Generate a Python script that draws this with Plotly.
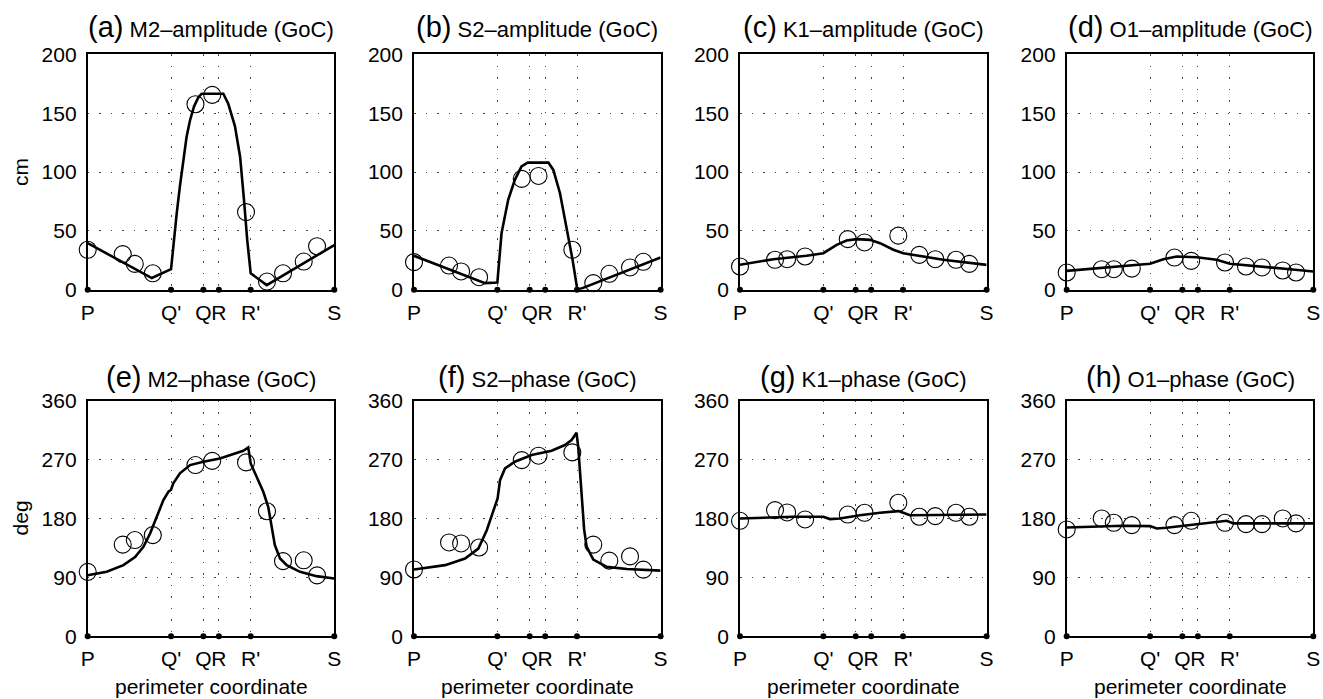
import plotly.graph_objects as go

# ---------------- data ----------------
tick_pos = [0, 33.8, 46.9, 53.2, 66.1, 100]
tick_txt = ["P", "Q'", "Q", "R", "R'", "S"]

stations_x = [0, 14.2, 19.1, 26.4, 43.7, 50.5, 64.2, 72.7, 79.2, 87.6, 93.0]

obs_m2_amp = [34, 30.3, 22, 14, 157.6, 165.5, 66, 7, 14, 24, 37]
obs_s2_amp = [23.5, 20.6, 15.6, 10.7, 94.2, 96.7, 34, 5.7, 13.6, 19, 23.8]
obs_k1_amp = [19.8, 25.5, 26, 28.3, 43, 40.2, 46, 29.7, 26, 25.5, 22]
obs_o1_amp = [14.7, 17.5, 17.5, 18, 27.4, 24.6, 23.2, 19.8, 19, 16.4, 14.7]
obs_m2_pha = [98.4, 140, 147, 154.5, 261.6, 268, 265.7, 191, 114.7, 116, 93]
obs_s2_pha = [102, 143.3, 141.8, 135.6, 269.2, 275.9, 281, 140, 115.5, 122, 101.7]
obs_k1_pha = [176.4, 192.8, 189.2, 178.5, 186, 188.7, 204, 182.6, 183.6, 188.7, 182.6]
obs_o1_pha = [163.2, 180, 173.4, 169.8, 169.8, 176.4, 173.4, 171.3, 171.3, 180, 172.4]

mod_m2_amp_x = [0, 26, 33.8, 34.7, 36.1, 37.4, 38.8, 40.1, 41.5, 43.1, 44.9, 46.2, 55, 57, 59.7, 61.8, 63.4, 64.7, 66.1, 72.6, 100]
mod_m2_amp_y = [39.6, 10, 17.5, 37, 65, 88, 110, 130, 144, 155.6, 163.5, 166.5, 166.5, 158, 139, 113, 76, 42, 14, 4, 38]

mod_s2_amp_x = [0, 28.8, 33.8, 35.5, 38.2, 40.9, 43.6, 46.1, 54.5, 56.5, 59.2, 61.9, 64.3, 66.2, 67.5, 100]
mod_s2_amp_y = [28.9, 5.7, 6.2, 48, 76.4, 93.4, 104.7, 108, 108, 101.8, 82, 53.7, 25.5, 0.6, 0.8, 27.4]

mod_k1_amp_x = [0, 13.5, 27, 33.8, 39.2, 43.2, 47.3, 52.7, 56.8, 62.2, 66.2, 73, 82.4, 100]
mod_k1_amp_y = [21.2, 26, 28.9, 31.1, 38.2, 41.9, 43, 42.4, 39.6, 34, 31.1, 28.9, 25.5, 21.2]

mod_o1_amp_x = [0, 13.5, 33.8, 39.2, 44.6, 52.7, 60.8, 66.2, 77, 90.5, 100]
mod_o1_amp_y = [16.1, 18.4, 22.1, 26, 28.3, 27.7, 25.5, 22.1, 19.8, 17.5, 15.6]

mod_m2_pha_x = [0, 7.7, 14.5, 19.2, 22.6, 25.3, 28.0, 30.7, 32.7, 33.8, 34.7, 37.4, 41.5, 46.9, 53.6, 60.4, 63.1, 65.1, 66.1,
                68.5, 71.2, 73.2, 74.6, 75.9, 78.0, 80.7, 86.1, 92.8, 100]
mod_m2_pha_y = [93.3, 98.4, 108.6, 121, 136.7, 157, 182.6, 208, 220.8, 224, 233.6, 249, 261.6, 266.7, 271.8, 279.5, 283.5, 288.6, 264,
                243.8, 220.8, 197.9, 167.3, 139.2, 118.8, 108.6, 98.4, 91.8, 88.2]

mod_s2_pha_x = [0, 12.6, 20.7, 26.1, 29.5, 32.2, 33.9, 34.9, 36.9, 40.9, 47.7, 55.8, 61.2, 63.9, 65.9, 66.6, 67.5, 68.4, 69.0, 70.0,
                72.7, 78.2, 86.3, 100]
mod_s2_pha_y = [102, 108.6, 118.8, 134, 162, 192.8, 210.6, 238.6, 256.5, 266.7, 276.9, 283.5, 292.2, 299.8, 311, 289, 245, 200, 163, 137,
                117, 106, 102.8, 100.2]

mod_k1_pha_x = [0, 21.6, 33.8, 36.5, 40.5, 48.6, 56.8, 64.2, 66.2, 68.9, 100]
mod_k1_pha_y = [180, 182.6, 182.6, 179, 180, 185, 188.7, 191.2, 188.7, 185, 186]

mod_o1_pha_x = [0, 23, 33.8, 36.5, 40.5, 50, 62.2, 64.9, 67.6, 100]
mod_o1_pha_y = [166.2, 168.8, 168.3, 164.7, 165.7, 169.8, 174.9, 176.4, 172.4, 172.4]

panels = [
    ("(a)", "M2–amplitude (GoC)", mod_m2_amp_x, mod_m2_amp_y, obs_m2_amp, 200, [0, 50, 100, 150, 200]),
    ("(b)", "S2–amplitude (GoC)", mod_s2_amp_x, mod_s2_amp_y, obs_s2_amp, 200, [0, 50, 100, 150, 200]),
    ("(c)", "K1–amplitude (GoC)", mod_k1_amp_x, mod_k1_amp_y, obs_k1_amp, 200, [0, 50, 100, 150, 200]),
    ("(d)", "O1–amplitude (GoC)", mod_o1_amp_x, mod_o1_amp_y, obs_o1_amp, 200, [0, 50, 100, 150, 200]),
    ("(e)", "M2–phase (GoC)", mod_m2_pha_x, mod_m2_pha_y, obs_m2_pha, 360, [0, 90, 180, 270, 360]),
    ("(f)", "S2–phase (GoC)", mod_s2_pha_x, mod_s2_pha_y, obs_s2_pha, 360, [0, 90, 180, 270, 360]),
    ("(g)", "K1–phase (GoC)", mod_k1_pha_x, mod_k1_pha_y, obs_k1_pha, 360, [0, 90, 180, 270, 360]),
    ("(h)", "O1–phase (GoC)", mod_o1_pha_x, mod_o1_pha_y, obs_o1_pha, 360, [0, 90, 180, 270, 360]),
]

# ---------------- layout geometry ----------------
W, H = 1323, 699
col_left_px = [87.7, 414.0, 740.0, 1066.7]
panel_w_px = 246.6
row_top_px = [54.3, 400.7]
panel_h_px = 235.5

FONT = "Liberation Sans, Arial, Helvetica, sans-serif"
FS_TICK = 21
FS_TITLE = 22

fig = go.Figure()
annotations = []
layout_axes = {}

for i, (lab, ttl, lx, ly, obs, ymax, yticks) in enumerate(panels):
    r, c = divmod(i, 4)
    n = i + 1
    xa = "x" if n == 1 else f"x{n}"
    ya = "y" if n == 1 else f"y{n}"
    x0 = col_left_px[c] / W
    x1 = (col_left_px[c] + panel_w_px) / W
    y1 = 1 - row_top_px[r] / H
    y0 = 1 - (row_top_px[r] + panel_h_px) / H

    fig.add_trace(go.Scatter(x=lx, y=ly, mode="lines", line=dict(color="black", width=2.6),
                             xaxis=xa, yaxis=ya, showlegend=False, cliponaxis=False))
    fig.add_trace(go.Scatter(x=stations_x, y=obs, mode="markers",
                             marker=dict(symbol="circle-open", size=17, color="black", line=dict(width=1.1)),
                             xaxis=xa, yaxis=ya, showlegend=False, cliponaxis=False))
    fig.add_trace(go.Scatter(x=tick_pos, y=[0] * len(tick_pos), mode="markers",
                             marker=dict(symbol="circle", size=6, color="black"),
                             xaxis=xa, yaxis=ya, showlegend=False, cliponaxis=False))

    common = dict(showline=True, mirror=True, linecolor="black", linewidth=1.7,
                  showgrid=True, gridcolor="#444", gridwidth=1, griddash="1.5px,10px",
                  zeroline=False, ticks="", automargin=False,
                  tickfont=dict(family=FONT, size=FS_TICK, color="black"))
    layout_axes["xaxis" if n == 1 else f"xaxis{n}"] = dict(
        common, domain=[x0, x1], range=[0, 100], tickmode="array", tickvals=tick_pos,
        ticktext=tick_txt, tickangle=0, anchor=ya, ticklabelstandoff=3)
    layout_axes["yaxis" if n == 1 else f"yaxis{n}"] = dict(
        common, domain=[y0, y1], range=[0, ymax], tickmode="array", tickvals=yticks,
        anchor=xa, ticklabelstandoff=5)

    # panel title
    ty = 1 - (26.7 if r == 0 else 376.7) / H
    annotations.append(dict(
        text=f"<span style='font-size:29px'>{lab}</span> {ttl}",
        x=(x0 + x1) / 2, y=ty, xref="paper", yref="paper", xanchor="center", yanchor="middle",
        showarrow=False, font=dict(family=FONT, size=FS_TITLE, color="black")))
    if r == 1:
        annotations.append(dict(
            text="perimeter coordinate", x=(x0 + x1) / 2, y=1 - 686.7 / H, xref="paper", yref="paper",
            xanchor="center", yanchor="middle", showarrow=False,
            font=dict(family=FONT, size=FS_TICK, color="black")))
    if c == 0:
        annotations.append(dict(
            text="cm" if r == 0 else "deg", textangle=-90, x=20 / W, y=(y0 + y1) / 2,
            xref="paper", yref="paper", xanchor="center", yanchor="middle", showarrow=False,
            font=dict(family=FONT, size=FS_TICK, color="black")))

fig.update_layout(
    width=W, height=H, autosize=False, margin=dict(l=0, r=0, t=0, b=0, pad=0),
    paper_bgcolor="white", plot_bgcolor="white",
    font=dict(family=FONT, size=FS_TICK, color="black"),
    annotations=annotations, **layout_axes)

fig.write_html("out.html", config={"displayModeBar": False},
               post_script="document.body.style.margin='0';document.body.style.overflow='hidden';")
